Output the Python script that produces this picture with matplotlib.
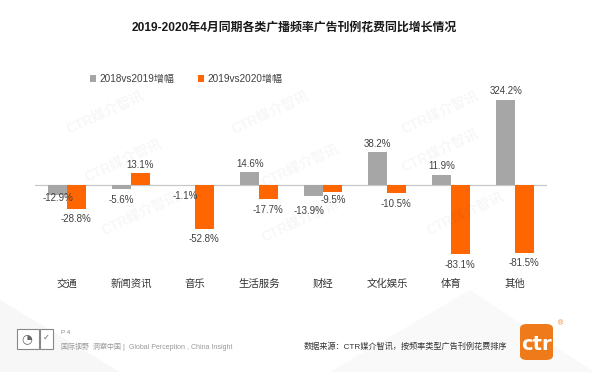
import matplotlib
matplotlib.use("Agg")
import matplotlib.pyplot as plt
from matplotlib.patches import Rectangle, FancyBboxPatch
import numpy as np

plt.rcParams['font.family'] = ['Liberation Sans', 'Noto Sans CJK SC', 'DejaVu Sans']

# ---------------- data ----------------
categories = ['交通', '新闻资讯', '音乐', '生活服务', '财经', '文化娱乐', '体育', '其他']
series_names = ['2018vs2019增幅', '2019vs2020增幅']
growth_2019 = [-12.9, -5.6, -1.1, 14.6, -13.9, 38.2, 11.9, 324.2]
growth_2020 = [-28.8, 13.1, -52.8, -17.7, -9.5, -10.5, -83.1, -81.5]
title = '2019-2020年4月同期各类广播频率广告刊例花费同比增长情况'
source_text = '数据来源：CTR媒介智讯，按频率类型广告刊例花费排序'
footer_text = '国际视野  洞察中国 |  Global Perception , China Insight'

# ---------------- style ----------------
W, H = 594, 372
GRAY = '#A6A6A6'
ORANGE = '#FF6600'
TXT = '#404040'
PX = 0.72  # points per pixel at dpi 100

fig = plt.figure(figsize=(W / 100, H / 100), dpi=100)
fig.patch.set_facecolor('white')

def fx(x):
    return x / W

def fy(y):
    return 1 - y / H

# faint background shapes
fig.patches.append(plt.Polygon([[fx(0), fy(372)], [fx(0), fy(300)], [fx(120), fy(372)]],
                               closed=True, transform=fig.transFigure, facecolor='#f7f7f7',
                               edgecolor='none', zorder=0))
fig.patches.append(plt.Polygon([[fx(330), fy(372)], [fx(470), fy(290)], [fx(594), fy(372)]],
                               closed=True, transform=fig.transFigure, facecolor='#f9f9f9',
                               edgecolor='none', zorder=0))

# watermarks
for (x, y) in [(105, 112), (270, 112), (440, 112), (123, 160), (300, 165), (440, 150),
               (140, 213), (300, 220), (465, 213)]:
    fig.text(fx(x), fy(y), 'CTR媒介智讯', fontsize=10, fontweight='bold', color='#000000',
             alpha=0.035, rotation=25, ha='center', va='center', zorder=0.5)

# axes
ax_left, ax_right, ax_top, ax_bottom = 35, 547, 100, 270
ax = fig.add_axes([fx(ax_left), fy(ax_bottom), (ax_right - ax_left) / W, (ax_bottom - ax_top) / H])
ax.set_facecolor('none')
scale = 0.84  # px per percent
zero_y = 184.5
ax.set_ylim(-(ax_bottom - zero_y) / scale, (zero_y - ax_top) / scale)
ax.set_xlim(-0.5, len(categories) - 0.5)

x = np.arange(len(categories))
bw = 0.29
off = 0.145
b1 = ax.bar(x - off, growth_2019, width=bw, color=GRAY, label=series_names[0], zorder=2)
b2 = ax.bar(x + off, growth_2020, width=bw, color=ORANGE, label=series_names[1], zorder=2)
ax.axhline(0, color='#C8C8C8', lw=0.9, zorder=1)

for s in ax.spines.values():
    s.set_visible(False)
ax.set_yticks([])
ax.set_xticks(x)
ax.set_xticklabels(categories, fontsize=7.5, color='#333333')
ax.tick_params(axis='x', length=0, pad=6.5)

# value labels (pixel offsets: default above/below, special cases for crowded labels)
special = {(0, 0): (0, 3), (0, 4): (-5, 14.5), (1, 4): (1, 7.5)}
ytop = ax.get_ylim()[1]
for si, (vals, xs) in enumerate([(growth_2019, x - off), (growth_2020, x + off)]):
    for i, v in enumerate(vals):
        dx, dd = special.get((si, i), (0, 8.5 if v >= 0 else 10.5))
        yv = min(v, ytop)
        dy = dd if v >= 0 else -dd
        ax.annotate(f'{v:.1f}%', (xs[i], yv), xytext=(dx * PX, dy * PX),
                    textcoords='offset points', ha='center', va='center',
                    fontsize=7, color=TXT, annotation_clip=False, zorder=3)

# title
fig.text(fx(294), fy(28), title, fontsize=8.6, fontweight='bold', color='#1a1a1a',
         ha='center', va='center')

# legend
leg = fig.legend(handles=[b1, b2], labels=series_names, loc='center left',
                 bbox_to_anchor=(fx(90), fy(79)), ncol=2, frameon=False, fontsize=7.2,
                 handlelength=0.6, handleheight=0.6, handletextpad=0.35,
                 columnspacing=2.4, borderpad=0, borderaxespad=0)
for t in leg.get_texts():
    t.set_color(TXT)

# footer left icons
fig.patches.append(Rectangle((fx(17), fy(349)), fx(22), 20 / H, transform=fig.transFigure,
                             facecolor='white', edgecolor='#888888', lw=0.8, zorder=2))
fig.patches.append(Rectangle((fx(40), fy(349)), fx(13), 20 / H, transform=fig.transFigure,
                             facecolor='white', edgecolor='#888888', lw=0.8, zorder=2))
fig.text(fx(27), fy(339), '◔', fontsize=9, color='#666666', ha='center', va='center',
         family=['DejaVu Sans'])
fig.text(fx(46.5), fy(337), '✓', fontsize=6, color='#666666', ha='center', va='center',
         family=['DejaVu Sans'])
fig.text(fx(61), fy(332), 'P 4', fontsize=4.5, color='#888888', ha='left', va='center')
fig.text(fx(61), fy(347), footer_text, fontsize=5, color='#999999', ha='left', va='center')

# source
fig.text(fx(304), fy(347), source_text, fontsize=5.9, color='#333333', ha='left', va='center')

# ctr logo
logo = FancyBboxPatch((fx(520), fy(360)), fx(33), 36 / H, boxstyle='round,pad=0,rounding_size=0.012',
                      transform=fig.transFigure, facecolor='#EE7A1A', edgecolor='none', zorder=2)
fig.patches.append(logo)
fig.text(fx(536.5), fy(344), 'ctr', fontsize=14, fontweight='bold', color='white',
         ha='center', va='center', family=['DejaVu Sans'], zorder=3)
fig.text(fx(560), fy(324), '®', fontsize=5, color='#EE7A1A', ha='center', va='center')

fig.savefig('out.png', dpi=100)
